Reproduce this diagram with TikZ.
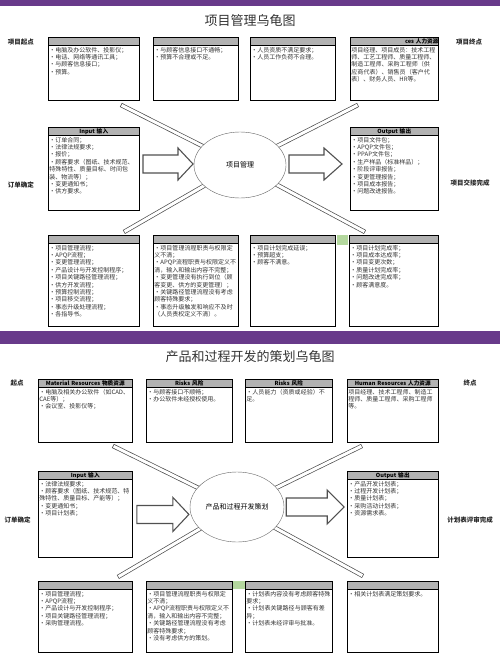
\documentclass[tikz,border=0pt]{standalone}
\usepackage{fontspec}
\setmainfont{Noto Sans CJK SC}
\XeTeXlinebreaklocale "zh"
\XeTeXlinebreakskip=0pt plus 0.1pt
\usetikzlibrary{shapes.geometric,calc}
\definecolor{bandpurple}{RGB}{104,58,138}
\definecolor{headgray}{RGB}{178,178,178}
\definecolor{tipgreen}{RGB}{180,216,158}
\definecolor{arrowgray}{RGB}{80,80,80}
\tikzset{
  tbox/.style={draw, line width=0.9pt, anchor=north west, inner sep=0pt, fill=white},
  thead/.style={draw, line width=0.6pt, fill=headgray, anchor=north west, inner sep=0pt,
    minimum height=8pt, align=center, font=\fontsize{5.6}{6}\selectfont\bfseries},
  ttext/.style={anchor=north west, inner sep=1.2pt, align=left, text=black!80,
    font=\fontsize{6}{7.4}\selectfont},
  side/.style={font=\fontsize{6.5}{8}\selectfont\bfseries, text=black!85},
  title/.style={font=\fontsize{13}{15}\selectfont, text=black!80},
  proc/.style={ellipse, draw=black!60, line width=0.4pt, fill=white, inner sep=0pt,
    font=\fontsize{7}{8}\selectfont},
  fatline/.style={draw=arrowgray, line width=1.1pt},
  patch/.style={fill=tipgreen, inner sep=0pt, anchor=north west},
  bar/.style={draw=black!70, line width=4.4pt,
    postaction={draw=white, line width=3pt, shorten >=0.7pt, shorten <=0.7pt}},
}
% box with gray header: name, x, y, width, height, header, text
\newcommand{\tbox}[7]{%
  \pgfmathsetmacro\tw{#4-3}
  \node[tbox, minimum width=#4, minimum height=#5] (#1) at (#2,#3) {};
  \node[thead, text width=#4] (#1h) at (#1.north west) {#6};
  \node[ttext, text width=\tw pt] (#1t) at (#1h.south west) {#7};
}
\begin{document}
\begin{tikzpicture}[x=1pt,y=-1pt]
\useasboundingbox (0,0) rectangle (500,653);
\fill[bandpurple] (0,0) rectangle (500,6);
\fill[bandpurple] (0,331) rectangle (500,344);
\node[patch, minimum width=11pt, minimum height=10pt] (g1) at (337,235) {};
\node[patch, minimum width=12pt, minimum height=8pt] (g2) at (233,581) {};

% ---- project management turtle
\node[title] (ttl1) at (250,21) {项目管理乌龟图};
\node[side] (start1) at (21,42) {项目起点};
\node[side] (end1) at (469,42) {项目终点};
\node[side] (order1) at (21,185) {订单确定};
\node[side] (hand1) at (470,183) {项目交接完成};

\tbox{t1}{48}{37}{91}{63}{}{•电脑及办公软件、投影仪；\\•电话、网络等通讯工具；\\•与顾客信息接口；\\•预算。}
\tbox{t2}{153}{37}{85}{63}{}{•与顾客信息接口不通畅；\\•预算不合理或不足。}
\tbox{t3}{250}{37}{85}{63}{}{•人员资质不满足要求；\\•人员工作负荷不合理。}
\tbox{t4}{350}{37}{88}{63}{\hfill ces 人力资源}{项目经理、项目成员：技术工程师、工艺工程师、质量工程师、制造工程师、采购工程师（供应商代表）、销售员（客户代表）、财务人员、HR等。}
\tbox{in1}{48}{127}{91}{83}{Input 输入}{•订单合同；\\•法律法规要求；\\•报价；\\•顾客要求（图纸、技术规范、特殊特性、质量目标、时间包装、物流等）；\\•变更通知书；\\•供方要求。}
\tbox{out1}{350}{127}{88}{83}{Output 输出}{•项目文件包；\\•APQP文件包；\\•PPAP文件包；\\•生产样品（标准样品）；\\•阶段评审报告；\\•变更管理报告；\\•项目成本报告；\\•问题改进报告。}
\tbox{b1}{48}{235}{91}{91}{}{•项目管理流程；\\•APQP流程；\\•变更管理流程；\\•产品设计与开发控制程序；\\•项目关键路径管理流程；\\•供方开发流程；\\•预算控制流程；\\•项目移交流程；\\•事态升级处理流程；\\•各指导书。}
\tbox{b2}{153}{235}{85}{91}{}{•项目管理流程职责与权限定义不清；\\•APQP流程职责与权限定义不清，输入和输出内容不完整；\\•变更管理没有执行到位（顾客变更、供方的变更管理）；\\•关键路径管理流程没有考虑顾客特殊要求；\\•事态升级触发和响应不及时（人员责权定义不清）。}
\tbox{b3}{250}{235}{85}{91}{}{•项目计划完成延误；\\•预算超支；\\•顾客不满意。}
\tbox{b4}{349}{235}{89}{91}{}{•项目计划完成率；\\•项目成本达成率；\\•项目变更次数；\\•质量计划完成率；\\•问题改进完成率；\\•顾客满意度。}

\draw[bar] ($(t1.south east)+(-19,4)$) -- (240,165);
\draw[bar] ($(t4.south west)+(8,4)$) -- (240,165);
\draw[bar] ($(b1.north east)+(-16,-3)$) -- (240,165);
\draw[bar] ($(b4.north west)+(16,-3)$) -- (240,165);
\node[proc, minimum width=92pt, minimum height=66pt] (pm) at (240,165) {项目管理};
% block arrows
\draw[fatline] (143,155) -- (178,155) -- (178,148) -- (193,164) -- (178,180) -- (178,173) -- (143,173) -- cycle;
\draw[fatline] (289,155) -- (324,155) -- (324,148) -- (342,164) -- (324,180) -- (324,173) -- (289,173) -- cycle;

% ---- planning turtle
\node[title] (ttl2) at (250,357) {产品和过程开发的策划乌龟图};
\node[side] (start2) at (17,383) {起点};
\node[side] (end2) at (470,383) {终点};
\node[side, anchor=west] (order2) at (1,520) {订单确定};
\node[side] (plan2) at (470,520) {计划表评审完成};

\tbox{m1}{38}{379}{94}{63}{Material Resources 物质资源}{•电脑及相关办公软件（如CAD、CAE等）；\\•会议室、投影仪等；}
\tbox{m2}{146}{379}{86}{63}{Risks 风险}{•与顾客接口不顺畅；\\•办公软件未经授权使用。}
\tbox{m3}{245}{379}{87}{63}{Risks 风险}{•人员能力（资质或经验）不足。}
\tbox{m4}{347}{379}{91}{63}{Human Resources 人力资源}{项目经理、技术工程师、制造工程师、质量工程师、采购工程师等。}
\tbox{in2}{38}{471}{94}{86}{Input 输入}{•法律法规要求；\\•顾客要求（图纸、技术规范、特殊特性、质量目标、产能等）；\\•变更通知书；\\•项目计划表；}
\tbox{out2}{347}{471}{91}{86}{Output 输出}{•产品开发计划表；\\•过程开发计划表；\\•质量计划表；\\•采购活动计划表；\\•资源需求表。}
\tbox{s1}{38}{581}{94}{71}{}{•项目管理流程；\\•APQP流程；\\•产品设计与开发控制程序；\\•项目关键路径管理流程；\\•采购管理流程。}
\tbox{s2}{146}{581}{86}{71}{}{•项目管理流程职责与权限定义不清；\\•APQP流程职责与权限定义不清，输入和输出内容不完整；\\•关键路径管理流程没有考虑顾客特殊要求；\\•没有考虑供方的策划。}
\tbox{s3}{245}{581}{87}{71}{}{•计划表内容没有考虑顾客特殊要求；\\•计划表关键路径与顾客有差异；\\•计划表未经评审与批准。}
\tbox{s4}{347}{581}{91}{71}{}{•相关计划表满足策划要求。}

\draw[bar] ($(m1.south east)+(-20,3)$) -- (237,507);
\draw[bar] ($(m4.south west)+(15,3)$) -- (237,507);
\draw[bar] ($(s1.north east)+(-15,-4)$) -- (237,507);
\draw[bar] ($(s4.north west)+(16,-5)$) -- (237,507);
\node[proc, minimum width=94pt, minimum height=70pt] (pp) at (237,507) {产品和过程开发策划};
% block arrows
\draw[fatline] ($(in2.east)+(4,-9)$) -- ++(36,0) -- ++(0,-8) -- ++(16,17) -- ++(-16,17) -- ++(0,-8) -- ++(-36,0) -- cycle;
\draw[fatline] ($(pp.east)+(2,-9)$) -- ++(41,0) -- ++(0,-8) -- ++(17,17) -- ++(-17,17) -- ++(0,-8) -- ++(-41,0) -- cycle;
\end{tikzpicture}
\end{document}
